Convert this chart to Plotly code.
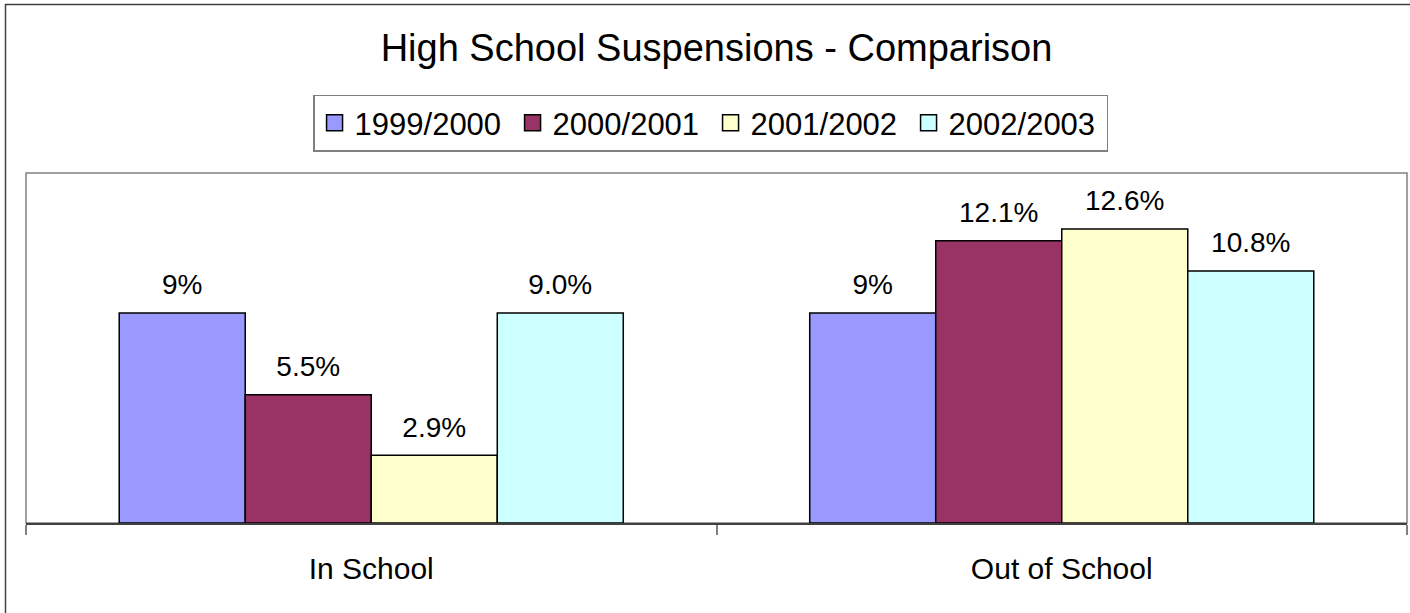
import plotly.graph_objects as go

categories = ["In School", "Out of School"]
series_names = ["1999/2000", "2000/2001", "2001/2002", "2002/2003"]
values_1999 = [9, 9]
values_2000 = [5.5, 12.1]
values_2001 = [2.9, 12.6]
values_2002 = [9.0, 10.8]
label_formats = ["{:.0f}%", "{:.1f}%", "{:.1f}%", "{:.1f}%"]
colors = ["#9999FF", "#993366", "#FFFFCC", "#CCFFFF"]

all_values = [values_1999, values_2000, values_2001, values_2002]
FONT = "Liberation Sans, Arial, sans-serif"

fig = go.Figure()
for name, vals, col in zip(series_names, all_values, colors):
    fig.add_trace(go.Bar(
        name=name, x=categories, y=vals, offsetgroup=name,
        marker=dict(color=col, line=dict(color="black", width=1.5)),
        hoverinfo="x+y+name", showlegend=False,
    ))
for name, vals, fmt in zip(series_names, all_values, label_formats):
    fig.add_trace(go.Scatter(
        x=categories, y=vals, mode="markers+text", offsetgroup=name,
        text=[fmt.format(v) for v in vals],
        textposition="top center",
        textfont=dict(family=FONT, size=28, color="black"),
        marker=dict(size=17, color="rgba(0,0,0,0)"),
        showlegend=False, hoverinfo="skip", cliponaxis=False,
    ))
# legend entries (square swatches)
for name, col in zip(series_names, colors):
    fig.add_trace(go.Scatter(
        x=[None], y=[None], mode="markers", name=name, offsetgroup=name,
        marker=dict(symbol="square", size=20, color=col,
                    line=dict(color="black", width=1.5)),
        showlegend=True, hoverinfo="skip",
    ))

fig.update_layout(
    width=1410, height=613,
    margin=dict(l=26, r=3, t=173, b=90),
    paper_bgcolor="white", plot_bgcolor="white",
    barmode="group", bargap=0.27, bargroupgap=0,
    scattermode="group", scattergap=0.27,
    font=dict(family=FONT, color="black"),
    title=dict(text="High School Suspensions - Comparison",
               font=dict(family=FONT, size=38, color="black"),
               x=0.5, xref="paper", xanchor="center",
               y=1 - 47.5 / 613, yref="container", yanchor="middle"),
    legend=dict(orientation="h", x=0.4957, xanchor="center",
                y=1.224, yanchor="top",
                font=dict(family=FONT, size=31, color="black"),
                bordercolor="#808080", borderwidth=1.5, bgcolor="white",
                traceorder="normal", entrywidth=153, itemsizing="trace"),
    showlegend=True,
    xaxis=dict(showline=True, linecolor="#404040", linewidth=1.5,
               ticks="outside", tickson="boundaries", ticklen=10,
               tickcolor="#808080", tickwidth=1.5,
               tickfont=dict(family=FONT, size=30, color="black"),
               ticklabelstandoff=18, showgrid=False, fixedrange=True),
    yaxis=dict(range=[0, 15], visible=False, showgrid=False,
               zeroline=False, fixedrange=True),
    shapes=[
        dict(type="rect", xref="paper", yref="paper", x0=0, x1=1, y0=0, y1=1,
             line=dict(color="#808080", width=1.5), layer="below"),
        dict(type="rect", xref="paper", yref="paper",
             x0=(5.5 - 26) / 1381, x1=(1414 - 26) / 1381,
             y0=(523 - 618) / 350, y1=(523 - 4.5) / 350,
             line=dict(color="#404040", width=1.5), layer="below"),
    ],
)

fig.write_html(
    "out.html",
    config={"displayModeBar": False},
    post_script="document.body.style.margin='0';document.body.style.overflow='hidden';",
)
